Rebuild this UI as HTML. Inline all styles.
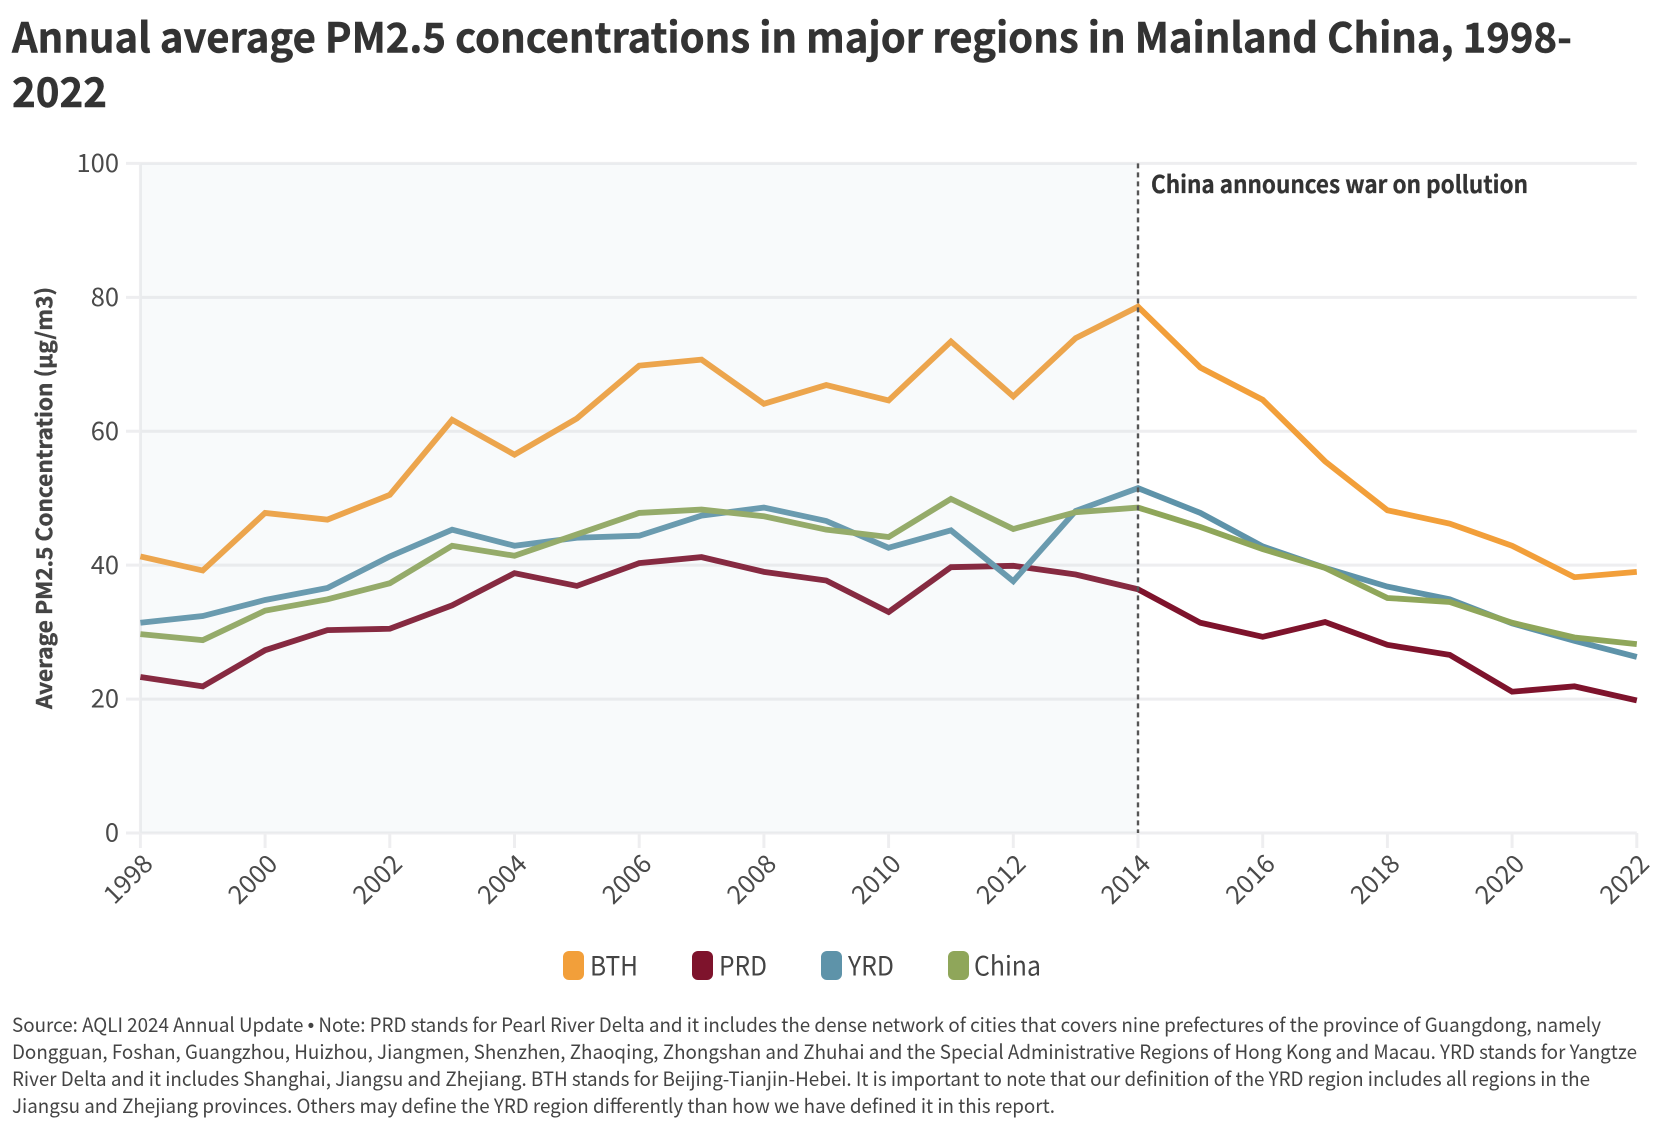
<!DOCTYPE html>
<html lang="en">
<head>
<meta charset="utf-8">
<title>Annual average PM2.5 concentrations</title>
<style>
html,body{margin:0;padding:0;background:#fff;}
body{width:1664px;height:1128px;overflow:hidden;}
svg{display:block;font-family:"Noto Sans CJK SC","Liberation Sans",sans-serif;}
.grid{stroke:#eeeef0;stroke-width:3;}
.tick-label{fill:#4a4a4a;font-size:25.5px;}
.title{fill:#333;font-size:41px;font-weight:700;stroke:#333;stroke-width:0.5px;}
.note{fill:#444;font-size:19.5px;}
</style>
</head>
<body>
<svg id="chart" xmlns="http://www.w3.org/2000/svg" width="1664" height="1128" viewBox="0 0 1664 1128">
  <text class="title" x="12" y="52.5" textLength="1560" lengthAdjust="spacingAndGlyphs">Annual average PM2.5 concentrations in major regions in Mainland China, 1998-</text>
  <text class="title" x="12" y="107" textLength="95" lengthAdjust="spacingAndGlyphs">2022</text>
  <g id="plot"></g>
  <text transform="translate(52 498) rotate(-90)" text-anchor="middle" fill="#444" stroke="#444" stroke-width="0.4" font-size="21.5" font-weight="700" textLength="422" lengthAdjust="spacingAndGlyphs">Average PM2.5 Concentration (µg/m3)</text>
  <text x="1151" y="193" fill="#333" stroke="#333" stroke-width="0.3" font-size="24" font-weight="700" textLength="377" lengthAdjust="spacingAndGlyphs">China announces war on pollution</text>
  <g>
    <g><rect x="563" y="951" width="21" height="29" rx="6" fill="#f29f3a"/><text x="590" y="975.5" fill="#444" font-size="26.5" textLength="48" lengthAdjust="spacingAndGlyphs">BTH</text></g>
    <g><rect x="692" y="951" width="21" height="29" rx="6" fill="#7e132c"/><text x="719" y="975.5" fill="#444" font-size="26.5" textLength="48" lengthAdjust="spacingAndGlyphs">PRD</text></g>
    <g><rect x="821" y="951" width="21" height="29" rx="6" fill="#5e93a9"/><text x="848" y="975.5" fill="#444" font-size="26.5" textLength="46" lengthAdjust="spacingAndGlyphs">YRD</text></g>
    <g><rect x="948" y="951" width="21" height="29" rx="6" fill="#8fa65a"/><text x="974" y="975.5" fill="#444" font-size="26.5" textLength="67" lengthAdjust="spacingAndGlyphs">China</text></g>
  </g>
  <g>
    <text class="note" x="12" y="1032" textLength="1589" lengthAdjust="spacingAndGlyphs">Source: AQLI 2024 Annual Update <tspan font-family="Liberation Sans">•</tspan> Note: PRD stands for Pearl River Delta and it includes the dense network of cities that covers nine prefectures of the province of Guangdong, namely</text>
    <text class="note" x="12" y="1059" textLength="1625" lengthAdjust="spacingAndGlyphs">Dongguan, Foshan, Guangzhou, Huizhou, Jiangmen, Shenzhen, Zhaoqing, Zhongshan and Zhuhai and the Special Administrative Regions of Hong Kong and Macau. YRD stands for Yangtze</text>
    <text class="note" x="12" y="1086" textLength="1578" lengthAdjust="spacingAndGlyphs">River Delta and it includes Shanghai, Jiangsu and Zhejiang. BTH stands for Beijing-Tianjin-Hebei. It is important to note that our definition of the YRD region includes all regions in the</text>
    <text class="note" x="12" y="1113" textLength="1043" lengthAdjust="spacingAndGlyphs">Jiangsu and Zhejiang provinces. Others may define the YRD region differently than how we have defined it in this report.</text>
  </g>
</svg>
<script>
const years = [1998,1999,2000,2001,2002,2003,2004,2005,2006,2007,2008,2009,2010,2011,2012,2013,2014,2015,2016,2017,2018,2019,2020,2021,2022];
const bthValues = [41.3,39.2,47.8,46.8,50.5,61.7,56.5,61.9,69.8,70.7,64.1,66.9,64.6,73.4,65.2,73.9,78.6,69.5,64.7,55.5,48.2,46.2,42.9,38.2,39.0];
const prdValues = [23.3,21.9,27.3,30.3,30.5,34.0,38.8,36.9,40.3,41.2,39.0,37.7,33.0,39.7,39.9,38.6,36.4,31.4,29.3,31.5,28.1,26.6,21.1,21.9,19.8];
const yrdValues = [31.4,32.4,34.8,36.6,41.3,45.3,42.9,44.1,44.4,47.4,48.6,46.6,42.6,45.2,37.6,48.1,51.5,47.8,42.8,39.6,36.8,34.9,31.3,28.7,26.3];
const chinaValues = [29.7,28.8,33.2,34.9,37.3,42.9,41.4,44.6,47.8,48.3,47.3,45.3,44.2,49.9,45.4,47.9,48.6,45.7,42.4,39.6,35.1,34.5,31.4,29.2,28.2];
const yTicks = [0,20,40,60,80,100];
const xTicks = [1998,2000,2002,2004,2006,2008,2010,2012,2014,2016,2018,2020,2022];
const eventYear = 2014;

const NS = 'http://www.w3.org/2000/svg';
const plot = document.getElementById('plot');
const left = 140.4, right = 1636.8, top_ = 163.4, bottom = 833;
const xScale = v => left + (v - years[0]) / (years[years.length - 1] - years[0]) * (right - left);
const yScale = v => bottom - v / 100 * (bottom - top_);

function make(tag, attrs, parent) {
  const el = document.createElementNS(NS, tag);
  Object.keys(attrs).forEach(k => el.setAttribute(k, attrs[k]));
  (parent || plot).appendChild(el);
  return el;
}

yTicks.forEach(t => {
  const line = make('line', {class: 'grid', x1: 126, x2: right, y1: yScale(t), y2: yScale(t)});
  
  
  const label = make('text', {class: 'tick-label', x: 119, y: yScale(t) + 8.6, 'text-anchor': 'end'});
  label.textContent = t;
  
  
});

const yAxisLine = make('line', {class: 'grid', x1: left, x2: left, y1: top_, y2: bottom});



xTicks.forEach(t => {
  const line = make('line', {class: 'grid', x1: xScale(t), x2: xScale(t), y1: bottom, y2: 848});
  
  
  const lx = xScale(t) + 14, ly = 865.5;
  const label = make('text', {class: 'tick-label', x: 0, y: 0, 'text-anchor': 'end', transform: 'translate(' + lx + ' ' + ly + ') rotate(-45)'});
  label.textContent = t;
  
  
});

function drawSeries(name, values, color) {
  const d = values.map((v, i) => (i ? 'L' : 'M') + xScale(years[i]).toFixed(2) + ' ' + yScale(v).toFixed(2)).join(' ');
  const path = make('path', {d: d, fill: 'none', stroke: color, 'stroke-width': 5.8, 'stroke-linejoin': 'miter'});
  
  
}
drawSeries('bth', bthValues, '#f29f3a');
drawSeries('prd', prdValues, '#7e132c');
drawSeries('yrd', yrdValues, '#5e93a9');
drawSeries('china', chinaValues, '#8fa65a');

const band = make('rect', {x: left, y: top_, width: xScale(eventYear) - left, height: bottom - top_, fill: 'rgb(200,210,225)', 'fill-opacity': 0.12});



const eventLine = make('line', {x1: xScale(eventYear), x2: xScale(eventYear), y1: top_, y2: bottom, stroke: '#555', 'stroke-width': 2.4, 'stroke-dasharray': '5 4'});


</script>
</body>
</html>
